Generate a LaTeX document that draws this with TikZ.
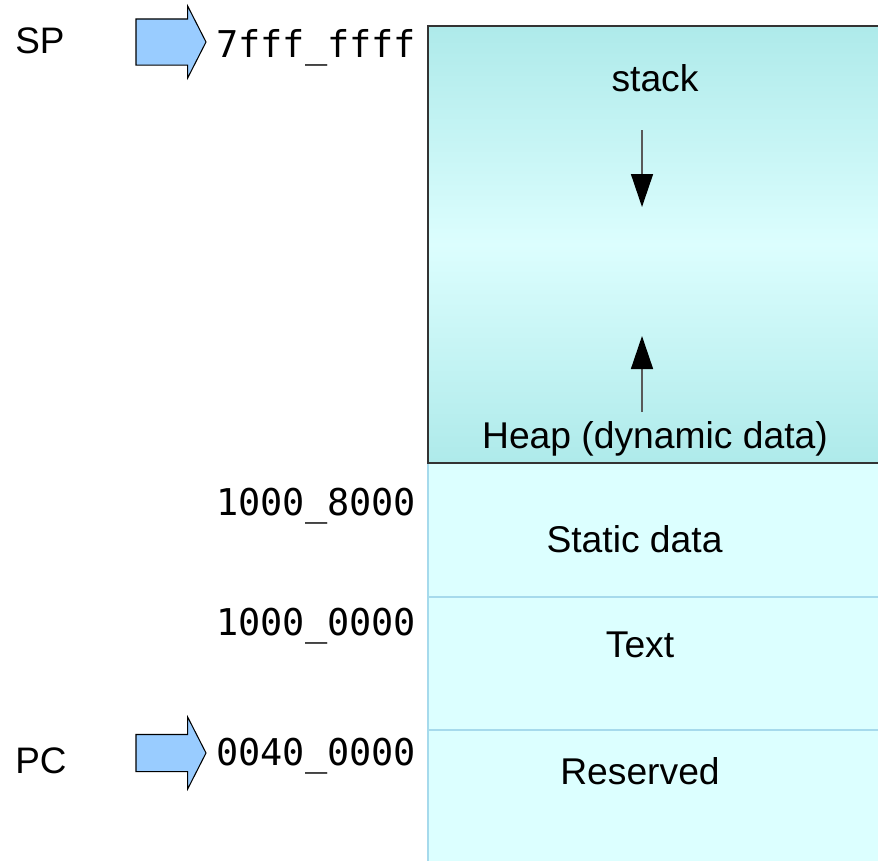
\documentclass[tikz,border=0pt]{standalone}
\usepackage{fontspec}
\setmainfont{Liberation Sans}
\newfontfamily\addrfont{DejaVu Sans Mono}
\usetikzlibrary{arrows.meta,shapes.arrows}

\definecolor{stackdark}{HTML}{AEEAEA}
\definecolor{stacklight}{HTML}{DCFEFE}
\definecolor{segfill}{HTML}{DCFFFF}
\definecolor{segline}{HTML}{A6DAEC}
\definecolor{arrowblue}{HTML}{99CCFF}

\tikzset{
	seglabel/.style={inner sep=0pt, anchor=base, font=\fontsize{21.2}{25}\selectfont},
	addr/.style={inner sep=0pt, anchor=base east, font=\addrfont\fontsize{21}{25}\selectfont},
	reglabel/.style={inner sep=0pt, anchor=base west, font=\fontsize{21}{25}\selectfont},
	blockarrow/.style={single arrow, draw=black, line width=0.6pt, fill=arrowblue,
		inner xsep=0pt, inner ysep=#1, outer sep=0pt, minimum height=1.4cm,
		single arrow head extend=0.26cm, single arrow tip angle=126, anchor=tip},
	growth/.style={draw=black!65, line width=0.85pt, -{Triangle[width=0.44cm,length=0.66cm,color=black]}}
}

\begin{document}
\begin{tikzpicture}[x=0.02cm, y=-0.02cm]

	\useasboundingbox (0,0) rectangle (878,860);
	\clip (0,0) rectangle (878,860);

	% lower segments
	\fill[segfill] (428,463) rectangle (890,870);
	\draw[segline, line width=0.7pt] (428,463) -- (428,870);
	\draw[segline, line width=0.7pt] (428,597) -- (890,597);
	\draw[segline, line width=0.7pt] (428,730) -- (890,730);

	% stack / heap area
	\shade[top color=stackdark, bottom color=stackdark, middle color=stacklight] (428,26) rectangle (890,463);
	\draw[black!80, line width=0.75pt] (428,26) rectangle (890,463);

	\node[seglabel] (stack) at (655,91) {stack};
	\node[seglabel] (heap) at (655,448) {Heap (dynamic data)};
	\node[seglabel] (static) at (634.5,552) {Static data};
	\node[seglabel] (text) at (640,657) {Text};
	\node[seglabel] (reserved) at (640,784) {Reserved};

	\coordinate (stackfrom) at (642,130);
	\coordinate (stackto) at (642,207);
	\coordinate (heapfrom) at (642,412);
	\coordinate (heapto) at (642,336);
	\draw[growth] (stackfrom) -- (stackto);
	\draw[growth] (heapfrom) -- (heapto);

	% addresses
	\node[addr] (top) at (416.5,57) {7fff\_ffff};
	\node[addr] (statictop) at (416.5,515) {1000\_8000};
	\node[addr] (texttop) at (416.5,635) {1000\_0000};
	\node[addr] (resvtop) at (416.5,765) {0040\_0000};

	% registers
	\node[reglabel] (sp) at (15,53) {SP};
	\node[reglabel] (pc) at (15,773) {PC};
	\node[blockarrow=0.45cm] (sparrow) at (206,42) {};
	\node[blockarrow=0.36cm, single arrow head extend=0.35cm] (pcarrow) at (206,753) {};

\end{tikzpicture}
\end{document}
